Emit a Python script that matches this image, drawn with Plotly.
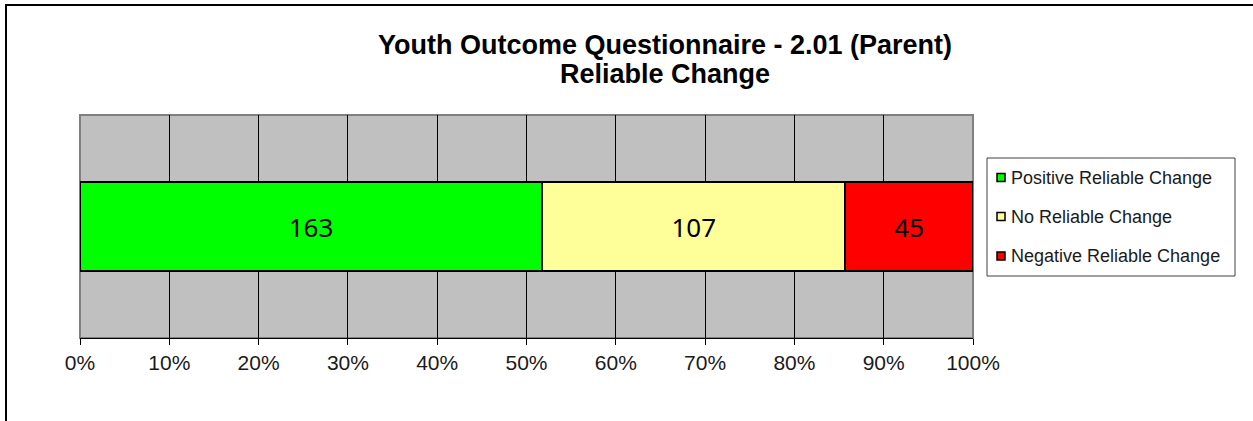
import plotly.graph_objects as go

categories = ["YOQ 2.01 (Parent)"]
series_names = ["Positive Reliable Change", "No Reliable Change", "Negative Reliable Change"]
series_values = [[163], [107], [45]]
series_colors = ["#00FF00", "#FFFF99", "#FF0000"]
tick_vals = [0, 10, 20, 30, 40, 50, 60, 70, 80, 90, 100]
tick_text = ["0%", "10%", "20%", "30%", "40%", "50%", "60%", "70%", "80%", "90%", "100%"]
title_lines = ["Youth Outcome Questionnaire - 2.01 (Parent)", "Reliable Change"]

W, H = 1253, 421
L, R, T, B = 80, 973, 115, 338
pw, ph = R - L, B - T


def px(x):
    return (x - L) / pw


def py(y):
    return (B - y) / ph


fig = go.Figure()
for i, (name, vals, col) in enumerate(zip(series_names, series_values, series_colors)):
    fig.add_trace(go.Bar(
        y=categories, x=vals, name=name, orientation="h",
        marker=dict(color=col, line=dict(color="black", width=2)),
        text=[str(v) for v in vals], textposition="inside",
        insidetextanchor="middle", textangle=0,
        textfont=dict(family="Noto Sans", size=26, color="black"),
        width=0.4, hoverinfo="skip", showlegend=False,
    ))

annotations = []
for line, yc in zip(title_lines, [45, 74]):
    annotations.append(dict(
        text=f"<b>{line}</b>", xref="paper", yref="paper",
        x=px(665), y=py(yc), xanchor="center", yanchor="middle",
        showarrow=False,
        font=dict(family="Liberation Sans, Arial", size=27, color="black"),
    ))

shapes = [
    dict(type="rect", xref="paper", yref="paper", x0=0, x1=1, y0=0, y1=1,
         line=dict(color="#808080", width=2), layer="below"),
    dict(type="rect", xref="paper", yref="paper",
         x0=px(6), x1=px(W + 10), y0=py(H + 10), y1=py(5),
         line=dict(color="black", width=2), fillcolor="rgba(0,0,0,0)"),
    # legend box
    dict(type="rect", xref="paper", yref="paper",
         x0=px(987), x1=px(1235), y0=py(276), y1=py(158),
         line=dict(color="#404040", width=1), fillcolor="white"),
]
for name, col, yc in zip(series_names, series_colors, [177.5, 216.5, 256]):
    shapes.append(dict(type="rect", xref="paper", yref="paper",
                       x0=px(997), x1=px(1005), y0=py(yc + 4), y1=py(yc - 4),
                       line=dict(color="black", width=1.5), fillcolor=col))
    annotations.append(dict(
        text=name, xref="paper", yref="paper", x=px(1009), y=py(yc),
        xanchor="left", yanchor="middle", showarrow=False,
        font=dict(family="Liberation Sans, Arial", size=18, color="#1a1a1a"),
    ))

fig.update_layout(
    width=W, height=H,
    barmode="stack", barnorm="percent",
    paper_bgcolor="white", plot_bgcolor="#C0C0C0",
    margin=dict(l=L, r=W - R, t=T, b=H - B, autoexpand=False),
    showlegend=False,
    xaxis=dict(
        range=[0, 100], tickvals=tick_vals, ticktext=tick_text,
        showgrid=True, gridcolor="black", gridwidth=1,
        ticks="outside", ticklen=6, tickcolor="black", tickwidth=1,
        showline=True, linecolor="black", linewidth=1,
        zeroline=False, fixedrange=True,
        tickfont=dict(family="Liberation Sans, Arial", size=21, color="#1a1a1a"),
    ),
    yaxis=dict(
        range=[-0.5, 0.5], showticklabels=False, showgrid=False,
        zeroline=False, showline=False, fixedrange=True,
    ),
    shapes=shapes,
    annotations=annotations,
)

fig.write_html(
    "out.html",
    config={"displayModeBar": False},
    post_script="document.body.style.margin='0px';document.body.style.overflow='hidden';",
)
